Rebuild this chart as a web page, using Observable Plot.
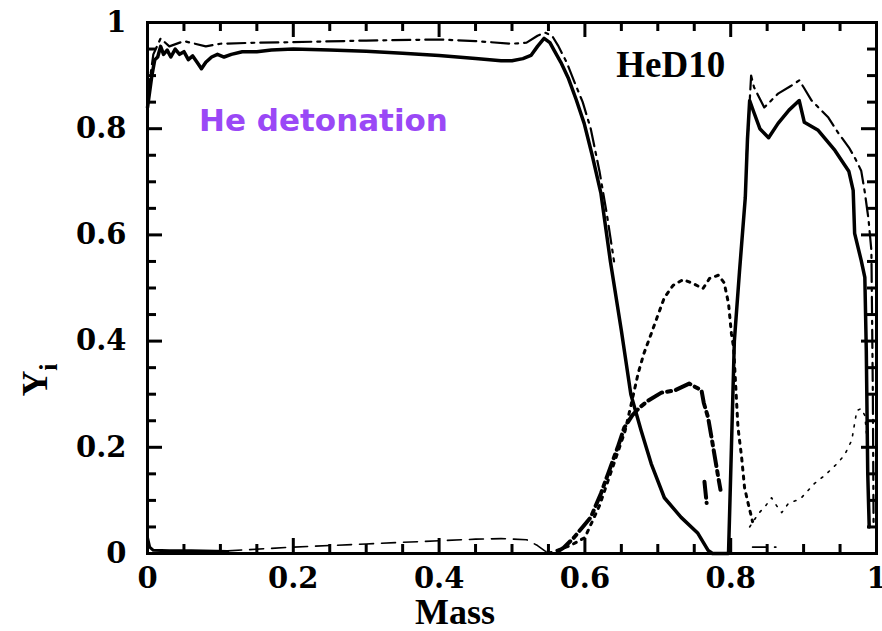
<!DOCTYPE html>
<html><head><meta charset="utf-8">
<script src="https://cdn.jsdelivr.net/npm/d3@7"></script>
<script src="https://cdn.jsdelivr.net/npm/@observablehq/plot@0.6"></script>
<style>html,body{margin:0;padding:0;background:#fff}svg{display:block}</style>
</head><body><div id="chart"></div>
<script>
// ---- tick definitions ----
const xTicks = [0, 0.2, 0.4, 0.6, 0.8, 1];
const xTickLabels = ["0", "0.2", "0.4", "0.6", "0.8", "1"];
const yTicks = [0, 0.2, 0.4, 0.6, 0.8, 1];
const yTickLabels = ["0", "0.2", "0.4", "0.6", "0.8", "1"];
const minorTicks = [0.05, 0.1, 0.15, 0.25, 0.3, 0.35, 0.45, 0.5, 0.55, 0.65, 0.7, 0.75, 0.85, 0.9, 0.95];

// ---- series A : solid thick ----
const massA = [0, 0.003, 0.006, 0.01, 0.014, 0.018, 0.022, 0.027, 0.032, 0.038, 0.044, 0.05, 0.056, 0.062, 0.068, 0.074, 0.08, 0.088, 0.096, 0.105, 0.115, 0.13, 0.15, 0.17, 0.2, 0.25, 0.3, 0.35, 0.4, 0.45, 0.485, 0.5, 0.515, 0.526, 0.535, 0.544, 0.552, 0.558, 0.567, 0.577, 0.588, 0.599, 0.61, 0.622, 0.635, 0.65, 0.663, 0.677, 0.691, 0.709, 0.732, 0.755, 0.769, 0.775, 0.797, 0.801, 0.805, 0.812, 0.82, 0.823, 0.826, 0.832, 0.84, 0.852, 0.865, 0.88, 0.894, 0.901, 0.92, 0.943, 0.962, 0.968, 0.97, 0.979, 0.984, 0.986, 0.988, 0.99];
const yA    = [0.84, 0.87, 0.9, 0.93, 0.935, 0.955, 0.94, 0.948, 0.935, 0.95, 0.94, 0.945, 0.93, 0.937, 0.925, 0.913, 0.925, 0.935, 0.94, 0.935, 0.94, 0.945, 0.945, 0.948, 0.95, 0.948, 0.946, 0.942, 0.938, 0.932, 0.928, 0.928, 0.932, 0.938, 0.955, 0.97, 0.962, 0.947, 0.925, 0.896, 0.855, 0.81, 0.75, 0.678, 0.55, 0.42, 0.3, 0.232, 0.169, 0.105, 0.068, 0.038, 0.006, 0, 0, 0.2, 0.4, 0.53, 0.67, 0.78, 0.853, 0.83, 0.8, 0.783, 0.81, 0.835, 0.853, 0.812, 0.797, 0.759, 0.72, 0.684, 0.603, 0.552, 0.52, 0.382, 0.15, 0.05];

// ---- series B : dash-dot upper ----
const massB = [0, 0.008, 0.018, 0.03, 0.05, 0.08, 0.1, 0.15, 0.2, 0.3, 0.4, 0.45, 0.5, 0.52, 0.535, 0.545, 0.555, 0.563, 0.575, 0.585, 0.597, 0.608, 0.62, 0.63, 0.64, NaN, 0.822, 0.828, 0.832, 0.846, 0.865, 0.883, 0.894, 0.9, 0.911, 0.934, 0.948, 0.962, 0.97, 0.979, 0.984, 0.989, 0.993, 0.995, 0.996];
const yB    = [0.86, 0.94, 0.97, 0.955, 0.965, 0.955, 0.96, 0.962, 0.963, 0.966, 0.968, 0.965, 0.96, 0.962, 0.975, 0.981, 0.975, 0.957, 0.925, 0.89, 0.85, 0.8, 0.72, 0.64, 0.55, NaN, 0.75, 0.9, 0.878, 0.84, 0.866, 0.881, 0.891, 0.878, 0.853, 0.821, 0.791, 0.765, 0.746, 0.721, 0.68, 0.63, 0.57, 0.3, 0.05];

// ---- series C : dotted bump ----
const massC = [0.55, 0.58, 0.6, 0.62, 0.64, 0.655, 0.665, 0.673, 0.681, 0.691, 0.701, 0.709, 0.721, 0.735, 0.749, 0.762, 0.771, 0.783, 0.791, 0.797, 0.801, 0.804, 0.81, 0.815, 0.819, 0.824, 0.83];
const yC    = [0, 0.015, 0.03, 0.09, 0.17, 0.23, 0.29, 0.339, 0.377, 0.414, 0.452, 0.482, 0.505, 0.516, 0.508, 0.499, 0.518, 0.524, 0.51, 0.471, 0.414, 0.388, 0.237, 0.181, 0.124, 0.094, 0.06];

// ---- series D : thick dash-dot ----
const massD = [0.563, 0.571, 0.585, 0.597, 0.608, 0.622, 0.632, 0.645, 0.654, 0.665, 0.675, 0.687, 0.705, 0.723, 0.743, 0.76, 0.763, 0.769, 0.776, 0.783, 0.786, NaN, 0.764, 0.767];
const yD    = [0.004, 0.011, 0.03, 0.05, 0.068, 0.113, 0.151, 0.2, 0.237, 0.26, 0.275, 0.288, 0.303, 0.307, 0.32, 0.307, 0.284, 0.256, 0.2, 0.143, 0.12, NaN, 0.135, 0.095];

// ---- series F : thin dotted, right ----
const massF = [0.826, 0.838, 0.848, 0.856, 0.863, 0.87, 0.879, 0.89, 0.897, 0.915, 0.929, 0.945, 0.956, 0.966, 0.97, 0.973, 0.979, 0.984, 0.988];
const yF    = [0.05, 0.075, 0.09, 0.105, 0.09, 0.077, 0.094, 0.1, 0.105, 0.132, 0.147, 0.168, 0.185, 0.213, 0.245, 0.269, 0.273, 0.26, 0.2];

// ---- series G : dashed near zero ----
const massG = [0.11, 0.2, 0.3, 0.4, 0.45, 0.485, 0.52, 0.535, 0.545, 0.552, NaN, 0.83, 0.862];
const yG    = [0.005, 0.012, 0.018, 0.024, 0.027, 0.028, 0.026, 0.015, 0.005, 0, NaN, 0.012, 0.012];

// ---- series H : solid near zero, inner core ----
const massH = [0, 0.003, 0.008, 0.03, 0.06, 0.11];
const yH    = [0.03, 0.012, 0.006, 0.005, 0.005, 0.004];

const pts = (xs, ys) => xs.map((x, i) => ({x, y: ys[i]}));

const tickFont = {fontSize: 29, fontWeight: "bold", fontFamily: "DejaVu Serif"};
const fmtX = d => xTickLabels[xTicks.indexOf(d)];
const fmtY = d => yTickLabels[yTicks.indexOf(d)];

// layout
const W = 882, H = 631, ML = 147, MR = 6, MT = 22, MB = 78;
const plotW = W - ML - MR, plotH = H - MT - MB;
const MINOR = 9, MAJOR = 15;
const tx = px => px / plotW, ty = px => px / plotH;
const tk = {stroke: "black", strokeWidth: 3};

const chart = Plot.plot({
  width: W, height: H,
  marginLeft: ML, marginRight: MR, marginTop: MT, marginBottom: MB,
  x: {domain: [0, 1]},
  y: {domain: [0, 1]},
  style: {background: "white", color: "black"},
  marks: [
    // tick labels
    Plot.axisX(xTicks, {anchor: "bottom", tickSize: 0, tickPadding: 14, tickFormat: fmtX, label: null, ...tickFont}),
    Plot.axisY(yTicks, {anchor: "left", tickSize: 0, tickPadding: 21, tickFormat: fmtY, label: null, ...tickFont}),
    // series
    Plot.line(pts(massH, yH), {x: "x", y: "y", stroke: "black", strokeWidth: 3}),
    Plot.line(pts(massG, yG), {x: "x", y: "y", stroke: "black", strokeWidth: 1.6, strokeDasharray: "14,8"}),
    Plot.line(pts(massF, yF), {x: "x", y: "y", stroke: "black", strokeWidth: 1.6, strokeDasharray: "2,7"}),
    Plot.line(pts(massD, yD), {x: "x", y: "y", stroke: "black", strokeWidth: 4, strokeDasharray: "16,5,4,5"}),
    Plot.line(pts(massC, yC), {x: "x", y: "y", stroke: "black", strokeWidth: 3, strokeDasharray: "3,6"}),
    Plot.line(pts(massB, yB), {x: "x", y: "y", stroke: "black", strokeWidth: 2.2, strokeDasharray: "18,6,3,6"}),
    Plot.line(pts(massA, yA), {x: "x", y: "y", stroke: "black", strokeWidth: 3.5}),
    // inward ticks: bottom, top, left, right
    Plot.ruleX(minorTicks, {x: d => d, y1: 0, y2: ty(MINOR), ...tk}),
    Plot.ruleX(xTicks, {x: d => d, y1: 0, y2: ty(MAJOR), ...tk}),
    Plot.ruleX(minorTicks, {x: d => d, y1: 1 - ty(MINOR), y2: 1, ...tk}),
    Plot.ruleX(xTicks, {x: d => d, y1: 1 - ty(MAJOR), y2: 1, ...tk}),
    Plot.ruleY(minorTicks, {y: d => d, x1: 0, x2: tx(MINOR), ...tk}),
    Plot.ruleY(yTicks, {y: d => d, x1: 0, x2: tx(MAJOR), ...tk}),
    Plot.ruleY(minorTicks, {y: d => d, x1: 1 - tx(MINOR), x2: 1, ...tk}),
    Plot.ruleY(yTicks, {y: d => d, x1: 1 - tx(MAJOR), x2: 1, ...tk}),
    Plot.frame({stroke: "black", strokeWidth: 3}),
    // annotations
    Plot.text(["HeD10"], {x: 0.643, y: 0.919, text: d => d, textAnchor: "start", lineAnchor: "middle", fontSize: 37, fontWeight: "bold", fontFamily: "Liberation Serif", fill: "black"}),
    Plot.text(["He detonation"], {x: 0.0707, y: 0.8136, text: d => d, textAnchor: "start", lineAnchor: "middle", fontSize: 31, fontWeight: "bold", fontFamily: "DejaVu Sans", fill: "#9a48f6"}),
    Plot.text(["Mass"], {x: 0.4217, y: -0.111, text: d => d, textAnchor: "middle", lineAnchor: "middle", fontSize: 36, fontWeight: "bold", fontFamily: "Liberation Serif", fill: "black"})
  ]
});

// y-axis title with subscript
const svg = d3.select(chart);
const yt = svg.append("text")
  .attr("transform", "translate(47,380) rotate(-90)")
  .attr("font-family", "Liberation Serif")
  .attr("font-weight", "bold")
  .attr("fill", "black");
yt.append("tspan").attr("font-size", 36).text("Y");
yt.append("tspan").attr("font-size", 26).attr("dy", 10).text("i");

document.getElementById("chart").appendChild(chart);
</script>
</body></html>
